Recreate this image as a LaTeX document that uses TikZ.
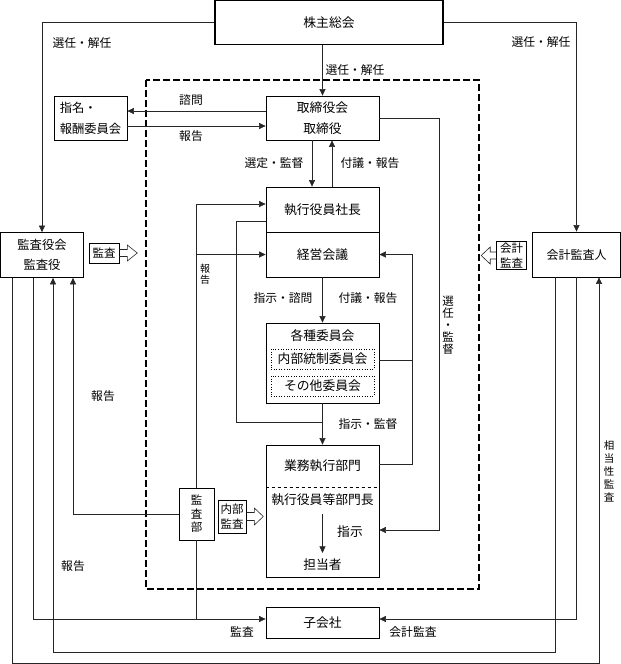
\documentclass[tikz,border=0pt]{standalone}
\usepackage{fontspec}
\setmainfont{Noto Sans CJK JP}
\usetikzlibrary{arrows.meta}

\begin{document}
\begin{tikzpicture}[x=1pt, y=-1pt, >={Triangle[length=6.5pt,width=6pt]},
    font=\fontsize{11.8}{21}\selectfont,
    box/.style={draw, line width=0.8pt, inner sep=0pt, align=center, font=\fontsize{12.8}{21}\selectfont},
    dotbox/.style={draw, dotted, line width=0.6pt, minimum width=103pt, minimum height=20pt, inner sep=0pt, font=\fontsize{12.8}{21}\selectfont},
    tag/.style={draw, line width=0.6pt, inner sep=0pt, align=center, font=\fontsize{11.5}{15}\selectfont},
    lbl/.style={inner sep=0pt},
    inlbl/.style={inner sep=0pt, font=\fontsize{12.8}{21}\selectfont},
    vlbl/.style={inner sep=0pt, align=center, font=\fontsize{10.5}{13}\selectfont},
    line/.style={line width=0.6pt, black!85},
    hollow/.style={line width=0.6pt, black!85}]

  \useasboundingbox (0,0) rectangle (621,664);

  % company frame
  \draw[line width=1.2pt, dash pattern=on 7pt off 3pt] (146,80) rectangle (479,589);

  % boxes
  \node[box, line width=1.4pt, minimum width=228pt, minimum height=44pt] (kabu) at (329,22.5) {株主総会};
  \node[box, minimum width=113pt, minimum height=44pt] (tori) at (322.5,118) {取締役会\\取締役};
  \node[box, align=left, minimum width=73pt, minimum height=44pt, font=\fontsize{12.3}{21}\selectfont] (shimei) at (90.5,118) {指名・\\報酬委員会};
  \node[box, minimum width=113pt, minimum height=45pt] (shacho) at (322.5,209.5) {執行役員社長};
  \node[box, minimum width=113pt, minimum height=45pt] (keiei) at (322.5,254.5) {経営会議};
  \node[box, minimum width=113pt, minimum height=80pt] (iinkai) at (322.5,363) {};
  \node[inlbl] (iinkaiT) at (322.5,336) {各種委員会};
  \node[dotbox] (naibu) at (322.5,359) {内部統制委員会};
  \node[dotbox] (sonota) at (322.5,386) {その他委員会};
  \node[box, minimum width=113pt, minimum height=132pt] (gyomu) at (322.5,511) {};
  \node[inlbl] (gyomuT) at (322.5,466) {業務執行部門};
  \node[inlbl] (bumoncho) at (322.5,500) {執行役員等部門長};
  \node[inlbl] (shiji) at (350,532) {指示};
  \node[inlbl] (tanto) at (322.5,565) {担当者};
  \node[box, minimum width=113pt, minimum height=31pt] (ko) at (322.5,622.5) {子会社};
  \node[box, minimum width=83pt, minimum height=45pt, font=\fontsize{12.3}{20}\selectfont] (kansayaku) at (42,255) {監査役会\\監査役};
  \node[box, minimum width=88pt, minimum height=45pt, font=\fontsize{12}{20}\selectfont] (kaikei) at (576.5,254.5) {会計監査人};
  \node[box, minimum width=35pt, minimum height=52pt, font=\fontsize{11.5}{13.5}\selectfont] (kansabu) at (196.5,514) {監\\査\\部};

  % audit tags
  \node[tag, minimum width=30pt, minimum height=20pt] (kansaTag) at (104,253) {監査};
  \node[tag, minimum width=30pt, minimum height=28pt] (kaikeiTag) at (511.5,255.5) {会計\\監査};
  \node[tag, minimum width=28pt, minimum height=33pt] (naibuTag) at (232,516.5) {内部\\監査};
  \draw[hollow] (kansaTag.east) ++(0,-3.5) -- ++(8,0) -- ++(0,-4.5) -- ++(10,8) -- ++(-10,8) -- ++(0,-4.5) -- ++(-8,0);
  \draw[hollow] (kaikeiTag.west) ++(0,-3.5) -- ++(-6,0) -- ++(0,-5) -- ++(-9,8.5) -- ++(9,8.5) -- ++(0,-5) -- ++(6,0);
  \draw[hollow] (naibuTag.east) ++(0,-4) -- ++(8,0) -- ++(0,-4.5) -- ++(9,8.5) -- ++(-9,8.5) -- ++(0,-4.5) -- ++(-8,0);
  \draw[dashed, line width=0.6pt] (gyomu.west |- 0,487) -- (gyomu.east |- 0,487);

  % shareholders
  \draw[->, line] (kabu.west) -| (kansayaku.north);
  \draw[->, line] (kabu.east) -| (kaikei.north);
  \draw[->, line] (tori.north |- kabu.south) -- (tori.north);
  \node[lbl] (sel1) at (82,43) {選任・解任};
  \node[lbl] (sel2) at (541,42) {選任・解任};
  \node[lbl] (sel3) at (355,70) {選任・解任};

  % board
  \draw[->, line] ([yshift=7pt]tori.west) -- ([yshift=7pt]shimei.east);
  \draw[->, line] ([yshift=-8pt]shimei.east) -- ([yshift=-8pt]tori.west);
  \node[lbl] (shimon) at (191,100) {諮問};
  \node[lbl] (hokoku1) at (191,136) {報告};
  \draw[->, line] ([xshift=-10.5pt]tori.south) -- ([xshift=-10.5pt]shacho.north);
  \draw[->, line] ([xshift=9.5pt]shacho.north) -- ([xshift=9.5pt]tori.south);
  \node[lbl] (sentei) at (274,163) {選定・監督};
  \node[lbl] (fugi1) at (370,163) {付議・報告};
  \draw[->, line] (tori.east) -- ++(59.5,0) |- ([yshift=-19pt]gyomu.east);
  \node[vlbl, font=\fontsize{11.5}{12}\selectfont] (senkan) at (448,325) {選\\任\\・\\監\\督};

  % executives
  \draw[->, line] (keiei.south) -- (iinkai.north);
  \node[lbl] (shijiShimon) at (283,298) {指示・諮問};
  \node[lbl] (fugi2) at (368,298) {付議・報告};
  \draw[line] ([yshift=3pt]iinkai.east) -- ++(33,0);
  \draw[->, line] ([yshift=47pt]gyomu.east) -- ++(33,0) |- (keiei.east);
  \draw[line] ([yshift=-11.5pt]shacho.west) -| (236,422) -- (gyomu.north |- 0,422);
  \draw[->, line] (iinkai.south) -- (gyomu.north);
  \node[lbl] (shijiKantoku) at (368,424) {指示・監督};
  \draw[->, line] ([yshift=-8pt]bumoncho.south) -- ([yshift=6pt]tanto.north);

  % internal audit
  \draw[->, line] (kansabu.north) |- ([yshift=5.5pt]shacho.west);
  \draw[->, line] (kansabu.north) |- (keiei.west);
  \node[vlbl, font=\fontsize{10}{11}\selectfont] (hokokuV) at (205,274) {報\\告};
  \draw[->, line] (kansabu.west) -| ([xshift=31pt]kansayaku.south);
  \node[lbl] (hokoku2) at (103,396) {報告};
  \draw[line] (kansabu.south) -- ++(0,79);

  % outer loops
  \draw[->, line] ([xshift=-30pt]kansayaku.south) |- (599,663) -- ([xshift=22.5pt]kaikei.south);
  \node[vlbl] (soto) at (609,471) {相\\当\\性\\監\\査};
  \draw[->, line] ([xshift=-9pt]kansayaku.south) |- ([yshift=3.5pt]ko.west);
  \node[lbl] (kansaL) at (242,632) {監査};
  \draw[->, line] ([xshift=-21.5pt]kaikei.south) |- (53,652) -- ([xshift=11pt]kansayaku.south);
  \node[lbl] (hokoku3) at (73,566) {報告};
  \draw[->, line] (kaikei.south) |- ([yshift=3.5pt]ko.east);
  \node[lbl] (kaikeiL) at (413,632) {会計監査};
\end{tikzpicture}
\end{document}
